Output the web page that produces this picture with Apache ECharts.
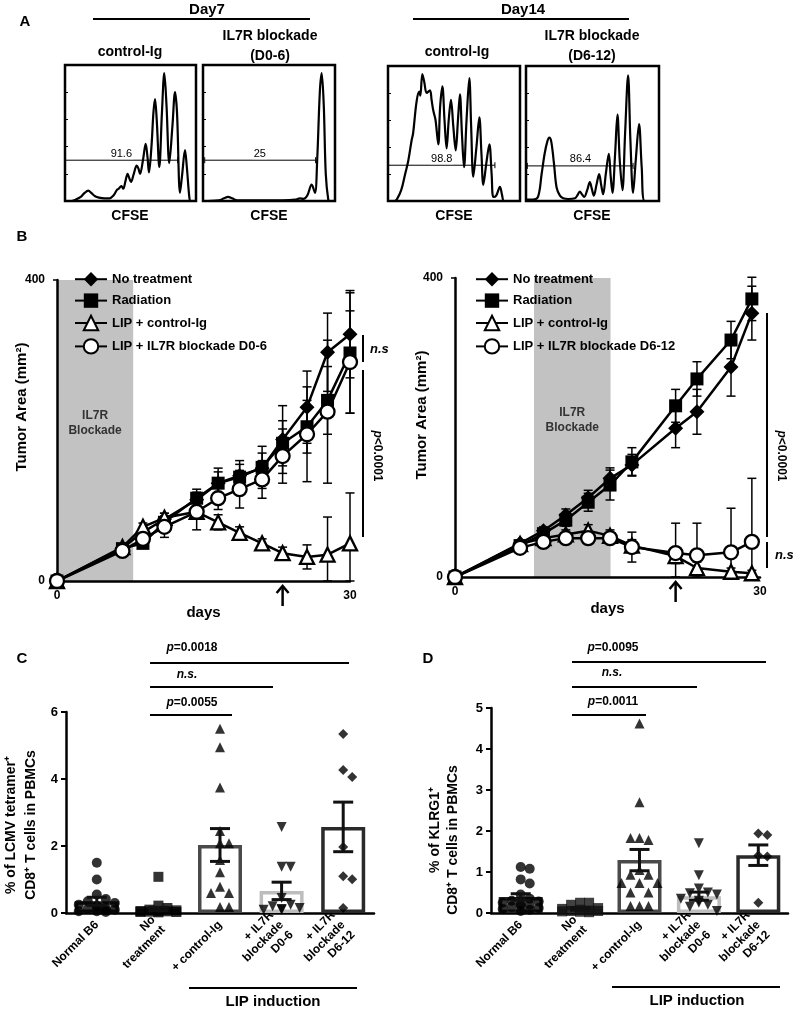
<!DOCTYPE html>
<html><head><meta charset="utf-8">
<script src="https://cdn.jsdelivr.net/npm/echarts@6/dist/echarts.min.js"></script>
<style>html,body{margin:0;padding:0;background:#fff}#c{width:793px;height:1011px}</style>
</head><body><div id="c"></div>
<script>
// ================= DATA =================
// Panel A: CFSE histograms, x = % of CFSE axis, y = % of max count
const histCtrl7 = [[0,0],[5,0],[8,1],[12,3],[15,6],[17.8,7.6],[20,6],[23,3.5],[26,2.5],[30,2],[34,2],[37,4],[39.5,8],[41,9],[43,11],[44.5,9],[46,14],[47.8,20],[49,17],[50.4,14],[52.5,20],[54.7,26],[56,24],[57.3,20],[59.5,30],[61.6,42],[63,32],[64.1,21],[66,40],[67.5,65],[68.7,75],[70,60],[72,25],[74,65],[75.8,94],[77.5,70],[79.6,28],[82,55],[84,80],[85.5,65],[87.8,6],[89.5,20],[91.6,37.5],[93,25],[95,2],[96,0],[100,0]];
const histBlock7 = [[0,0],[12,0.5],[16,2],[19,3],[22,2],[26,0.5],[40,0.5],[60,0.5],[70,1],[73.4,2],[76,1.5],[79,4],[82.3,12],[84.8,6],[86.5,30],[88.5,80],[89.9,94],[91.5,70],[93,20],[94.9,1],[96,0],[100,0]];
const histCtrl14 = [[0,0],[5,0],[6.6,1],[10,8],[13,20],[15.4,30],[17.9,45],[19,50],[21.7,74],[23.7,81],[24.5,78],[26,94],[27.5,88],[29.3,80],[31.8,82],[33,75],[34.3,67],[36,60],[38.1,42],[39.5,70],[41.2,85],[42.8,60],[44.4,39],[46,60],[47.7,75],[49.5,55],[51.3,37.5],[53,60],[54.5,79],[56,50],[57.6,25],[59.5,60],[61.6,91],[63,55],[64.6,18],[67,40],[69.2,62],[70.8,35],[72.2,12],[74.5,28],[76.8,42],[78.5,20],[79.8,3],[82,4],[84.8,10.5],[86.5,4],[87.9,0],[100,0]];
const histBlock14 = [[0,1],[5,1],[9,3],[11.75,20],[14,35],[16,44],[17.5,47],[19,44],[21,28],[23,10],[25.5,4],[28,2],[32,1.5],[36.75,2],[38.5,4],[40.5,7],[42,5],[43.75,3],[46,8],[48,14],[49.5,9],[51,4],[53,12],[55,20],[56.5,12],[58,5],[60,20],[62.25,35],[63.7,18],[65,6],[67,35],[68.75,64],[70.5,30],[72.5,8],[74.5,50],[76.75,93],[78.5,45],[80.5,6],[82.5,30],[85,57],[87,25],[89.25,0],[100,0]];
const gateLabels = ['91.6','25','98.8','86.4'];
const gateStart = [0, 1.3, 0, 1];
const gateEnd = [86, 85.3, 81, 80.5];
const gateLevel = [30, 30, 26.5, 26];
const gateLabelAt = [43, 43, 40.7, 41];

// Panel B left (IL7R blockade D0-6)
const daysL = [0, 6.7, 8.8, 11, 14.3, 16.5, 18.7, 21, 23.1, 25.6, 27.7, 30];
const noTreatL = [0, 44, 65, 82, 108, 130, 140, 150, 188, 231, 304, 328];
const noTreatErrL = [0, 4, 5, 8, 10, 15, 15, 20, 45, 48, 52, 58];
const radL = [0, 43, 50, 78, 110, 130, 138, 151, 183, 205, 240, 303];
const radErrL = [0, 4, 5, 8, 12, 20, 22, 28, 30, 35, 45, 80];
const lipCtrlL = [0, 45, 72, 84, 92, 78, 64, 50, 37, 32, 35, 50];
const lipCtrlErrL = [0, 4, 5, 6, 8, 10, 8, 6, 8, 16, 50, 67];
const lipBlockL = [0, 40, 56, 72, 92, 110, 122, 135, 166, 195, 225, 291];
const lipBlockErrL = [0, 4, 5, 14, 24, 15, 25, 25, 36, 63, 95, 68];
const shadeL = [0, 7.8];
const arrowL = [23.1];

// Panel B right (IL7R blockade D6-12)
const daysR = [0, 6.4, 8.7, 10.9, 13.1, 15.25, 17.4, 21.7, 23.8, 27.15, 29.2];
const noTreatR = [0, 45, 62, 83, 106, 132, 150, 199, 221, 281, 353];
const noTreatErrR = [0, 3, 5, 8, 10, 14, 14, 26, 30, 39, 36];
const radR = [0, 42, 58, 76, 100, 123, 154, 229, 265, 317, 372];
const radErrR = [0, 3, 5, 8, 12, 20, 19, 22, 23, 25, 29];
const lipCtrlR = [0, 44, 52, 57, 62, 55, 42, 28, 12, 7, 5];
const lipCtrlErrR = [0, 3, 5, 6, 8, 8, 8, 10, 8, 5, 4];
const lipBlockR = [0, 39, 47, 52, 52, 52, 40, 32, 29, 33, 47];
const lipBlockErrR = [0, 3, 5, 6, 7, 6, 20, 40, 43, 59, 85];
const shadeR = [7.77, 15.3];
const arrowR = [21.7];

const legendNamesL = ['No treatment', 'Radiation', 'LIP + control-Ig', 'LIP + IL7R blockade D0-6'];
const legendNamesR = ['No treatment', 'Radiation', 'LIP + control-Ig', 'LIP + IL7R blockade D6-12'];

// Panels C and D
const groups = ['Normal B6', 'No\ntreatment', '+ control-Ig', '+ IL7R\nblockade\nD0-6', '+ IL7R\nblockade\nD6-12'];
const meanC = [0.35, 0.12, 2.03, 0.66, 2.57];
const semC = [0.12, 0.05, 0.49, 0.26, 0.74];
const ptsC = [
  [1.5, 1.0, 0.55, 0.42, 0.35, 0.3, 0.25, 0.2, 0.2, 0.15, 0.12, 0.1, 0.08, 0.05, 0.05, 0.03],
  [1.08, 0.22, 0.15, 0.1, 0.08, 0.06, 0.05, 0.05, 0.04, 0.03, 0.03, 0.02],
  [5.5, 4.95, 3.75, 2.45, 2.08, 2.08, 1.58, 1.22, 0.78, 0.6, 0.6, 0.18, 0.18],
  [2.57, 1.38, 1.38, 0.45, 0.25, 0.2, 0.15, 0.12, 0.1, 0.1],
  [5.34, 4.27, 4.06, 1.97, 1.1, 1.01, 0.15]
];
const meanD = [0.39, 0.1, 1.29, 0.41, 1.41];
const semD = [0.08, 0.03, 0.26, 0.1, 0.25];
const ptsD = [
  [1.12, 1.08, 0.82, 0.72, 0.45, 0.35, 0.3, 0.28, 0.25, 0.22, 0.2, 0.18, 0.15, 0.12, 0.1, 0.08, 0.05],
  [0.25, 0.25, 0.2, 0.12, 0.1, 0.08, 0.06, 0.05, 0.05, 0.04, 0.03, 0.02],
  [4.62, 2.7, 1.83, 1.78, 1.83, 1.05, 0.93, 0.93, 0.73, 0.73, 0.73, 0.5, 0.5, 0.17, 0.17, 0.17],
  [1.7, 0.92, 0.6, 0.5, 0.48, 0.45, 0.35, 0.3, 0.25, 0.2, 0.15, 0.05],
  [1.94, 1.9, 1.4, 1.38, 0.25]
];

// ================= STYLE / LAYOUT =================
const FF = '"Liberation Sans", Arial, Helvetica, sans-serif';
const barBorder = ['#222', '#8a8a8a', '#4a4a4a', '#bdbdbd', '#2a2a2a'];
const ptSymbols = ['circle', 'rect', 'triangle', 'triangle', 'diamond'];
const ptRot = [0, 0, 0, 180, 0];
const ptColorsC = ['#000', '#000', '#000', '#000', '#000'];
const ptColorsD = ['#000', '#111', '#000', '#000', '#000'];

const grids = [
  {left:65, top:65, width:131, height:136},
  {left:203, top:65, width:132, height:136},
  {left:388, top:66, width:132, height:135},
  {left:526, top:66, width:133, height:135},
  {left:57, top:280, width:293, height:301},
  {left:455, top:278, width:305, height:299},
  {left:66, top:712, width:308, height:201},
  {left:491, top:708, width:297, height:205}
];

const xAxes = [], yAxes = [], series = [];
// Histogram axes
for (let i = 0; i < 4; i++) {
  grids[i] = Object.assign({show:true, borderColor:'#000', borderWidth:2.5, backgroundColor:'transparent'}, grids[i]);
  xAxes.push({gridIndex:i, type:'value', min:0, max:100, show:false});
  yAxes.push({gridIndex:i, type:'value', min:0, max:100, interval:20,
    axisLine:{show:false}, axisLabel:{show:false}, splitLine:{show:false},
    axisTick:{show:true, inside:true, length:3, lineStyle:{color:'#000', width:1}}});
}
const hists = [histCtrl7, histBlock7, histCtrl14, histBlock14];
hists.forEach((h, i) => {
  series.push({type:'line', xAxisIndex:i, yAxisIndex:i, data:h, smooth:0.35, symbol:'none',
    lineStyle:{color:'#000', width:2.2}, z:2, silent:true});
  series.push({type:'custom', xAxisIndex:i, yAxisIndex:i, silent:true, z:3,
    data:[[gateStart[i], gateEnd[i], gateLevel[i], gateLabelAt[i]]],
    encode:{x:[0,1], y:2},
    renderItem(params, api){
      const a = api.coord([api.value(0), api.value(2)]);
      const b = api.coord([api.value(1), api.value(2)]);
      const l = api.coord([api.value(3), api.value(2)]);
      return {type:'group', children:[
        {type:'line', shape:{x1:a[0], y1:a[1], x2:b[0], y2:b[1]}, style:{stroke:'#000', lineWidth:1}},
        {type:'line', shape:{x1:a[0], y1:a[1]-3, x2:a[0], y2:a[1]+3}, style:{stroke:'#000', lineWidth:1}},
        {type:'line', shape:{x1:b[0], y1:b[1]-3, x2:b[0], y2:b[1]+3}, style:{stroke:'#000', lineWidth:1}},
        {type:'text', style:{text:gateLabels[i], x:l[0], y:l[1]-1,
          align:'center', verticalAlign:'bottom', fontSize:11, fontFamily:FF, fill:'#000',
          backgroundColor:'#fff', padding:[0,1,0,1]}}
      ]};
    }});
});

// Panel B axes
function bAxes(gi) {
  xAxes.push({gridIndex:gi, type:'value', min:0, max:30, interval:30,
    name:'days', nameLocation:'middle', nameGap:24,
    nameTextStyle:{fontSize:15, fontWeight:'bold', fontFamily:FF, color:'#000'},
    axisLine:{lineStyle:{color:'#000', width:2.5}}, axisTick:{show:false},
    axisLabel:{fontSize:12, fontWeight:'bold', fontFamily:FF, color:'#000', margin:9}, splitLine:{show:false}});
  yAxes.push({gridIndex:gi, type:'value', min:0, max:400, interval:400,
    axisLine:{show:true, lineStyle:{color:'#000', width:2.5}}, axisTick:{show:true, length:4, lineStyle:{color:'#000', width:1.5}},
    axisLabel:{fontSize:12, fontWeight:'bold', fontFamily:FF, color:'#000', margin:12}, splitLine:{show:false}});
}
bAxes(4); bAxes(5);

function shadeSeries(gi, shade) {
  return {type:'custom', xAxisIndex:gi, yAxisIndex:gi, silent:true, z:0,
    data:[[shade[0], shade[1]]], encode:{x:[0,1]},
    renderItem(params, api){
      const p0 = api.coord([api.value(0), 400]);
      const p1 = api.coord([api.value(1), 0]);
      const cx = (p0[0] + p1[0]) / 2, cy = api.coord([0, 210])[1];
      return {type:'group', children:[
        {type:'rect', shape:{x:p0[0], y:p0[1], width:p1[0]-p0[0], height:p1[1]-p0[1]}, style:{fill:'#c2c2c2'}},
        {type:'text', style:{text:'IL7R\nBlockade', x:cx, y:cy, align:'center', verticalAlign:'middle',
          fontSize:12, fontWeight:'bold', fontFamily:FF, fill:'#333', lineHeight:15}}
      ]};
    }};
}
function arrowSeries(gi, arr) {
  return {type:'custom', xAxisIndex:gi, yAxisIndex:gi, silent:true, z:5, clip:false,
    data:[[arr[0]]], encode:{x:0},
    renderItem(params, api){
      const p = api.coord([api.value(0), 0]);
      const x = p[0], y0 = p[1] + 5, y1 = p[1] + 25;
      return {type:'group', children:[
        {type:'line', shape:{x1:x, y1:y0+2, x2:x, y2:y1}, style:{stroke:'#000', lineWidth:2.5}},
        {type:'polyline', shape:{points:[[x-6, y0+7],[x, y0],[x+6, y0+7]]}, style:{stroke:'#000', lineWidth:2.5, fill:null}}
      ]};
    }};
}
function errSeries(gi, days, vals, errs) {
  return {type:'custom', xAxisIndex:gi, yAxisIndex:gi, silent:true, z:2, clip:false,
    data: days.map((d, i) => [d, vals[i], errs[i]]), encode:{x:0, y:1},
    renderItem(params, api){
      const x = api.value(0), y = api.value(1), e = api.value(2);
      if (!e) return null;
      const t = api.coord([x, y + e]), b = api.coord([x, Math.max(0, y - e)]);
      const c = 4.5, st = {stroke:'#000', lineWidth:1.5};
      return {type:'group', children:[
        {type:'line', shape:{x1:t[0], y1:t[1], x2:b[0], y2:b[1]}, style:st},
        {type:'line', shape:{x1:t[0]-c, y1:t[1], x2:t[0]+c, y2:t[1]}, style:st},
        {type:'line', shape:{x1:b[0]-c, y1:b[1], x2:b[0]+c, y2:b[1]}, style:st}
      ]};
    }};
}
function lineSeries(gi, name, days, vals, symbol, fill, size) {
  return {type:'line', name, xAxisIndex:gi, yAxisIndex:gi, data: days.map((d, i) => [d, vals[i]]),
    symbol, symbolSize:size, showSymbol:true, z:3,
    lineStyle:{color:'#000', width:2.5},
    itemStyle:{color:fill, borderColor:'#000', borderWidth: fill === '#000' ? 0 : 2.3}};
}
function panelB(gi, days, sets, names, shade, arrow) {
  series.push(shadeSeries(gi, shade));
  sets.forEach(s => series.push(errSeries(gi, days, s.v, s.e)));
  const sym = [['diamond', '#000', 15], ['rect', '#000', 13], ['triangle', '#fff', 14], ['circle', '#fff', 14]];
  sets.forEach((s, k) => series.push(lineSeries(gi, names[k], days, s.v, sym[k][0], sym[k][1], sym[k][2])));
  series.push(arrowSeries(gi, arrow));
}
panelB(4, daysL, [{v:noTreatL, e:noTreatErrL}, {v:radL, e:radErrL}, {v:lipCtrlL, e:lipCtrlErrL}, {v:lipBlockL, e:lipBlockErrL}], legendNamesL, shadeL, arrowL);
panelB(5, daysR, [{v:noTreatR, e:noTreatErrR}, {v:radR, e:radErrR}, {v:lipCtrlR, e:lipCtrlErrR}, {v:lipBlockR, e:lipBlockErrR}], legendNamesR, shadeR, arrowR);

// Panels C, D: horizontal spread of dots (beeswarm limited to the bar width)
function swarm(vals, pxPerUnit, size, step, maxSteps) {
  const placed = [];
  const cands = [0];
  for (let j = 1; j <= maxSteps; j++) { cands.push(j * step, -j * step); }
  return vals.map((v, idx) => {
    const y = v * pxPerUnit;
    let best = cands[idx % cands.length], bestN = Infinity;
    for (const c of cands) {
      const n = placed.filter(p => Math.abs(p.y - y) < size * 1.1 && Math.abs(p.dx - c) < size * 0.9).length;
      if (n < bestN) { bestN = n; best = c; }
      if (n === 0) break;
    }
    placed.push({y, dx:best});
    return best;
  });
}
function panelCD(gi, means, sems, pts, ymax, colors) {
  xAxes.push({gridIndex:gi, type:'category', data:groups,
    axisLine:{lineStyle:{color:'#000', width:2.5}}, axisTick:{show:false},
    axisLabel:{interval:0, rotate:45, fontSize:12, fontWeight:'bold', fontFamily:FF, color:'#000', lineHeight:14, margin:10}});
  yAxes.push({gridIndex:gi, type:'value', min:0, max:ymax, interval: ymax === 6 ? 2 : 1,
    axisLine:{show:true, lineStyle:{color:'#000', width:2.5}},
    axisTick:{show:true, length:5, lineStyle:{color:'#000', width:2}},
    axisLabel:{fontSize:13, fontWeight:'bold', fontFamily:FF, color:'#000', margin:8}, splitLine:{show:false}});
  series.push({type:'bar', xAxisIndex:gi, yAxisIndex:gi, barWidth:44, z:2, silent:true,
    data: means.map((m, i) => ({value:m, itemStyle:{color:'#fff', borderColor:barBorder[i], borderWidth:3.5}}))});
  const pxPerUnit = grids[gi].height / ymax;
  const sdata = [];
  pts.forEach((arr, i) => {
    const offs = swarm(arr, pxPerUnit, 10, 9, 2);
    arr.forEach((v, k) => sdata.push({value:[i, v], symbol:ptSymbols[i], symbolRotate:ptRot[i],
      symbolOffset:[offs[k], 0], itemStyle:{color:colors[i]}}));
  });
  series.push({type:'scatter', xAxisIndex:gi, yAxisIndex:gi, data:sdata, symbolSize:10, z:3, silent:true});
  series.push({type:'custom', xAxisIndex:gi, yAxisIndex:gi, silent:true, z:4,
    data: means.map((m, i) => [i, m, sems[i]]), encode:{x:0, y:1},
    renderItem(params, api){
      const i = api.value(0), m = api.value(1), s = api.value(2);
      const t = api.coord([i, m + s]), b = api.coord([i, Math.max(0, m - s)]);
      const c = 10, st = {stroke:'#111', lineWidth:3};
      return {type:'group', children:[
        {type:'line', shape:{x1:t[0], y1:t[1], x2:b[0], y2:b[1]}, style:st},
        {type:'line', shape:{x1:t[0]-c, y1:t[1], x2:t[0]+c, y2:t[1]}, style:st},
        {type:'line', shape:{x1:b[0]-c, y1:b[1], x2:b[0]+c, y2:b[1]}, style:st}
      ]};
    }});
}
panelCD(6, meanC, semC, ptsC, 6, ptsC.map((_, i) => ptColorsC[i]));
panelCD(7, meanD, semD, ptsD, 5, ptsD.map((_, i) => ptColorsD[i]));

// ================= GRAPHIC (annotations) =================
function T(text, x, y, o) {
  o = o || {};
  return {type:'text', x, y, rotation:o.rot || 0, silent:true, style:{text, align:o.align || 'center', verticalAlign:o.va || 'middle',
    textAlign:o.align || 'center', textVerticalAlign:o.va || 'middle',
    fontSize:o.size || 14, fontWeight:o.weight || 'bold', fontStyle:o.style || 'normal', fontFamily:FF, fill:'#000',
    lineHeight:o.lh, rich:o.rich}};
}
function L(x1, y1, x2, y2, w) {
  return {type:'line', silent:true, shape:{x1, y1, x2, y2}, style:{stroke:'#000', lineWidth:w || 2}};
}
const richP = {i:{fontStyle:'italic', fontWeight:'bold', fontSize:12, fontFamily:FF, fill:'#000'},
               n:{fontStyle:'normal', fontWeight:'bold', fontSize:12, fontFamily:FF, fill:'#000'}};
const g = [
  T('A', 25, 22, {size:15}), T('B', 22, 237, {size:15}), T('C', 22, 659, {size:15}), T('D', 428, 659, {size:15}),
  T('Day7', 207, 10, {size:15}), L(93, 19, 310, 19, 2),
  T('Day14', 523, 10, {size:15}), L(413, 19, 629, 19, 2),
  T('control-Ig', 130, 52), T('IL7R blockade', 270, 36), T('(D0-6)', 270, 56),
  T('control-Ig', 457, 52), T('IL7R blockade', 592, 36), T('(D6-12)', 592, 56),
  T('CFSE', 130, 216), T('CFSE', 269, 216), T('CFSE', 454, 216), T('CFSE', 592, 216),
  T('Tumor Area (mm²)', 22, 407, {size:15, rot:Math.PI/2}),
  T('Tumor Area (mm²)', 422, 415, {size:15, rot:Math.PI/2}),
  L(363, 335, 363, 362, 2), T('n.s', 370, 349, {align:'left', style:'italic', size:13}),
  L(363, 370, 363, 537, 2), T('{i|p}{n|<0.0001}', 377, 456, {rot:-Math.PI/2, size:12, rich:richP}),
  L(767, 313, 767, 537, 2), T('{i|p}{n|<0.0001}', 781, 456, {rot:-Math.PI/2, size:12, rich:richP}),
  L(767, 542, 767, 568, 2), T('n.s', 775, 555, {align:'left', style:'italic', size:13}),
  // C brackets
  T('{i|p}{n|=0.0018}', 192, 648, {rich:richP, size:12}), L(150, 663, 349, 663, 2),
  T('n.s.', 187, 675, {style:'italic', size:12}), L(150, 687, 273, 687, 2),
  T('{i|p}{n|=0.0055}', 192, 703, {rich:richP, size:12}), L(150, 715, 232, 715, 2),
  L(189, 988, 357, 988, 2), T('LIP induction', 273, 1002, {size:15}),
  T('% of LCMV tetramer⁺', 11, 825, {rot:Math.PI/2, size:14}),
  T('CD8⁺ T cells in PBMCs', 31, 825, {rot:Math.PI/2, size:14}),
  // D brackets
  T('{i|p}{n|=0.0095}', 613, 648, {rich:richP, size:12}), L(572, 662, 766, 662, 2),
  T('n.s.', 612, 673, {style:'italic', size:12}), L(572, 687, 697, 687, 2),
  T('{i|p}{n|=0.0011}', 613, 702, {rich:richP, size:12}), L(572, 715, 646, 715, 2),
  L(612, 987, 780, 987, 2), T('LIP induction', 697, 1001, {size:15}),
  T('% of KLRG1⁺', 435, 830, {rot:Math.PI/2, size:14}),
  T('CD8⁺ T cells in PBMCs', 453, 840, {rot:Math.PI/2, size:14})
];

const legendCommon = {orient:'vertical', itemWidth:32, itemHeight:18, itemGap:7, selectedMode:false,
  textStyle:{fontSize:13, fontWeight:'bold', fontFamily:FF, color:'#000'}};
const option = {
  animation:false,
  backgroundColor:'#fff',
  grid: grids, xAxis: xAxes, yAxis: yAxes, series,
  legend:[Object.assign({data:legendNamesL, left:69, top:267}, legendCommon),
          Object.assign({data:legendNamesR, left:470, top:267}, legendCommon)],
  graphic: g
};
const chart = echarts.init(document.getElementById('c'), null, {width:793, height:1011});
chart.setOption(option);
</script></body></html>
